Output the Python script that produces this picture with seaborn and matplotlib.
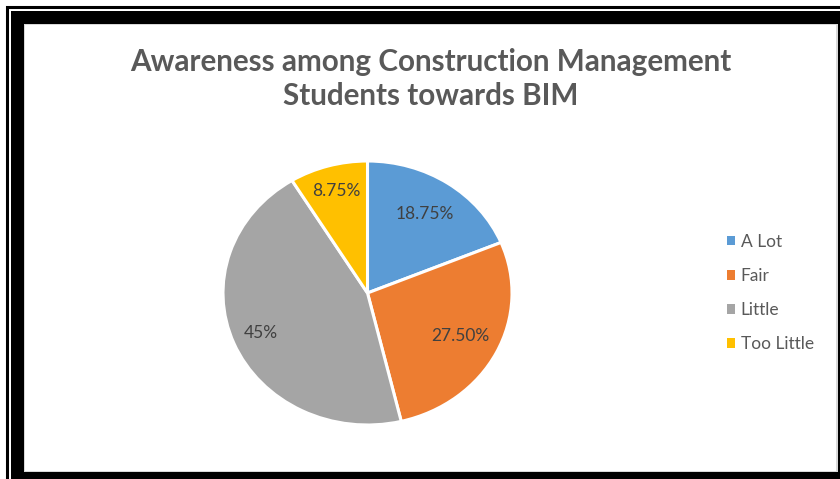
import matplotlib
matplotlib.use("Agg")
import matplotlib.pyplot as plt
import seaborn as sns
import numpy as np
from matplotlib.patches import Rectangle

categories = ["A Lot", "Fair", "Little", "Too Little"]
values = [18.75, 27.50, 45.0, 8.75]
value_labels = ["18.75%", "27.50%", "45%", "8.75%"]
title_text = "Awareness among Construction Management\nStudents towards BIM"

sns.set_theme(style="white")
plt.rcParams['font.family'] = ['Lato', 'DejaVu Sans']
colors = sns.color_palette(["#5B9BD5", "#ED7D31", "#A5A5A5", "#FFC000"])

W, H = 840, 479
fig = plt.figure(figsize=(W / 100, H / 100), dpi=100)
fig.patch.set_facecolor("white")

def px(x0, y0, x1, y1, **kw):
    # rectangle in pixel coords (y from top)
    fig.add_artist(Rectangle((x0 / W, 1 - y1 / H), (x1 - x0) / W, (y1 - y0) / H,
                             transform=fig.transFigure, zorder=-10, **kw))

# frame decoration
px(7, 7, 860, 500, facecolor="none", edgecolor="black", linewidth=2.2)
px(11, 11, 860, 500, facecolor="black", edgecolor="none")
px(24, 24, 838, 472, facecolor="#D9D9D9", edgecolor="none")
px(25, 25, 836, 471, facecolor="white", edgecolor="none")

# pie axes (slightly elliptical, as in the reference)
cx, cy, rx, ry = 367.5, 293, 144.5, 132
ax = fig.add_axes([(cx - rx) / W, 1 - (cy + ry) / H, 2 * rx / W, 2 * ry / H])
ax.set_zorder(5)
wedges, _ = ax.pie(values, colors=colors, startangle=90, counterclock=False,
                   wedgeprops=dict(edgecolor="white", linewidth=2.2))
ax.set_aspect("auto")
ax.set_xlim(-1, 1)
ax.set_ylim(-1, 1)
ax.axis("off")

label_r = [0.72, 0.72, 0.80, 0.80]
for w, lab, r in zip(wedges, value_labels, label_r):
    ang = np.deg2rad((w.theta1 + w.theta2) / 2)
    ax.text(r * np.cos(ang), r * np.sin(ang), lab, ha="center", va="center",
            fontsize=12.5, color="#404040")

fig.text(431 / W, 1 - 79 / H, title_text, ha="center", va="center",
         fontsize=21.3, fontweight="bold", color="#595959", linespacing=1.3)

leg = fig.legend(wedges, categories, loc="center left",
                 bbox_to_anchor=(711 / W, 1 - 293 / H), frameon=False,
                 fontsize=12.5, handlelength=0.5, handleheight=0.5,
                 handletextpad=0.3, labelspacing=1.05)
for t in leg.get_texts():
    t.set_color("#595959")
for h in leg.legend_handles:
    h.set_edgecolor("none")

fig.savefig("out.png", dpi=100)
